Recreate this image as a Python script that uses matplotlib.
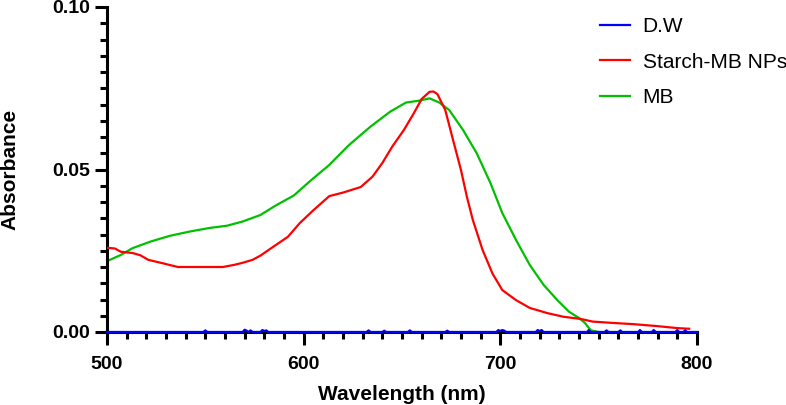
import matplotlib
matplotlib.use("Agg")
import matplotlib.pyplot as plt
from matplotlib.ticker import MultipleLocator, FormatStrFormatter

plt.rcParams['font.family'] = ['Liberation Sans', 'DejaVu Sans']

# D.W (distilled water) baseline with small noise spikes
dw_wl = [500, 549, 550, 551, 569, 570, 571, 572, 573, 574, 578, 579, 580, 581, 582,
         632, 633, 634, 640, 641, 642, 653, 654, 655, 672, 673, 674, 698, 699, 700,
         701, 702, 703, 718, 719, 720, 721, 722, 744, 745, 746, 753, 754, 755, 760,
         761, 762, 770, 771, 772, 777, 778, 779, 789, 790, 791, 793, 794, 795, 800]
dw_abs = [0, 0, 0.0005, 0, 0, 0.0007, 0.0004, 0, 0.0005, 0, 0, 0.0006, 0.0003, 0.0005, 0,
          0, 0.0005, 0, 0, 0.0004, 0, 0, 0.0005, 0, 0, 0.0004, 0, 0, 0.0006, 0.0003,
          0.0006, 0.0004, 0, 0, 0.0006, 0.0003, 0.0006, 0, 0, 0.0006, 0, 0, 0.0005, 0, 0,
          0.0005, 0, 0, 0.0006, 0, 0, 0.0006, 0, 0, 0.0006, 0, 0, 0.0005, 0, 0]

# Starch-MB NPs
red_wl = [500, 504, 507, 513, 517, 521, 528, 536, 545, 559, 565, 569, 574, 578, 584, 592,
          598, 605, 613, 620, 629, 635, 640, 645, 651, 656, 660, 664, 666, 668, 672, 676,
          680, 683, 686, 691, 696, 701, 708, 715, 724, 732, 741, 747, 757, 768, 780, 790, 796]
red_abs = [0.0259, 0.0257, 0.0247, 0.0243, 0.0236, 0.0222, 0.0212, 0.0200, 0.0200, 0.0200,
           0.0207, 0.0213, 0.0222, 0.0235, 0.0260, 0.0293, 0.0335, 0.0375, 0.0418, 0.0429,
           0.0446, 0.0478, 0.0520, 0.0570, 0.0622, 0.0673, 0.0717, 0.0739, 0.0740, 0.0732,
           0.0683, 0.0590, 0.0498, 0.0416, 0.0345, 0.0252, 0.0180, 0.0129, 0.0098, 0.0074,
           0.0058, 0.0047, 0.0040, 0.0032, 0.0028, 0.0024, 0.0018, 0.0012, 0.0010]

# MB
mb_wl = [500, 507, 513, 522, 532, 542, 552, 561, 569, 578, 586, 595, 603, 613, 623, 634,
         644, 652, 659, 664, 669, 674, 681, 688, 695, 701, 708, 715, 722, 729, 735, 740,
         743, 746, 750]
mb_abs = [0.0218, 0.0237, 0.0258, 0.0278, 0.0296, 0.0309, 0.0320, 0.0327, 0.0340, 0.0360,
          0.0390, 0.0420, 0.0463, 0.0514, 0.0575, 0.0632, 0.0678, 0.0706, 0.0712, 0.0719,
          0.0706, 0.0683, 0.0622, 0.0550, 0.0458, 0.0366, 0.0283, 0.0206, 0.0145, 0.0098,
          0.0062, 0.0043, 0.0028, 0.0005, 0.0]

fig = plt.figure(figsize=(7.86, 4.05), dpi=100)
ax = fig.add_axes([107/786, 73/405, 590/786, 325/405])

l_dw, = ax.plot(dw_wl, dw_abs, color='#0000ff', lw=1.6, zorder=4, clip_on=False)
l_red, = ax.plot(red_wl, red_abs, color='#ff0000', lw=1.6, zorder=3)
l_mb, = ax.plot(mb_wl, mb_abs, color='#00c000', lw=1.6, zorder=2)

ax.set_xlim(500, 800)
ax.set_ylim(0, 0.10)
ax.xaxis.set_major_locator(MultipleLocator(100))
ax.xaxis.set_minor_locator(MultipleLocator(10))
ax.yaxis.set_major_locator(MultipleLocator(0.05))
ax.yaxis.set_minor_locator(MultipleLocator(0.005))
ax.yaxis.set_major_formatter(FormatStrFormatter('%.2f'))

for s in ['top', 'right']:
    ax.spines[s].set_visible(False)
for s in ['left', 'bottom']:
    ax.spines[s].set_linewidth(2.2)

ax.tick_params(which='major', direction='out', length=9, width=2.2, labelsize=14)
ax.tick_params(which='minor', direction='out', length=5, width=2.2)
ax.tick_params(axis='x', which='major', pad=8)
ax.tick_params(axis='y', which='major', pad=3)
for lab in ax.get_xticklabels() + ax.get_yticklabels():
    lab.set_fontweight('bold')

ax.set_xlabel('Wavelength (nm)', fontsize=15, fontweight='bold', labelpad=9)
ax.set_ylabel('Absorbance', fontsize=15, fontweight='bold', labelpad=24)

fig.legend([l_dw, l_red, l_mb], ['D.W', 'Starch-MB NPs', 'MB'],
           loc='upper left', bbox_to_anchor=(600/786, 1 - 17/405),
           frameon=False, fontsize=15, handlelength=1.45, handletextpad=0.6,
           labelspacing=0.8, borderpad=0, borderaxespad=0)

fig.savefig('out.png', dpi=100)
